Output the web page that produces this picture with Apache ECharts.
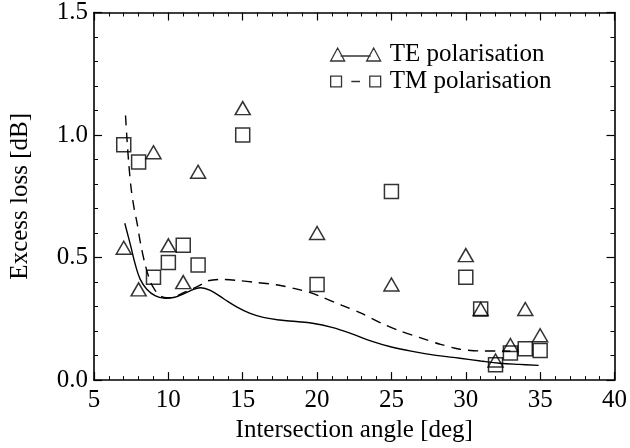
<!DOCTYPE html>
<html>
<head>
<meta charset="utf-8">
<script src="https://cdn.jsdelivr.net/npm/echarts@6/dist/echarts.min.js"></script>
<style>
html,body{margin:0;padding:0;background:#fff;}
#chart{width:630px;height:448px;}
</style>
</head>
<body>
<div id="chart"></div>
<script>
// Measured points
const angles = [7, 8, 9, 10, 11, 12, 15, 20, 25, 30, 31, 32, 33, 34, 35];
const teLoss = [0.54, 0.37, 0.93, 0.55, 0.40, 0.85, 1.11, 0.60, 0.39, 0.51, 0.29, 0.08, 0.143, 0.29, 0.183];
const tmLoss = [0.96, 0.89, 0.42, 0.48, 0.55, 0.47, 1.00, 0.39, 0.77, 0.42, 0.29, 0.063, 0.111, 0.128, 0.121];

// Fitted curves
const teFitX = [7.07, 7.45, 7.78, 8.11, 8.55, 9.1, 9.77, 10.43, 11.09, 11.75, 12.19, 12.85, 13.74, 14.62, 15.5, 16.38, 17.49, 18.59, 19.69, 21.0, 22.3, 23.6, 25.0, 26.5, 28.0, 29.6, 31.0, 32.3, 33.6, 34.9];
const teFitY = [0.64, 0.552, 0.471, 0.411, 0.371, 0.345, 0.334, 0.338, 0.354, 0.371, 0.377, 0.365, 0.331, 0.298, 0.272, 0.256, 0.245, 0.239, 0.232, 0.215, 0.19, 0.16, 0.135, 0.116, 0.101, 0.089, 0.078, 0.069, 0.064, 0.06];
const tmFitX = [7.12, 7.2, 7.34, 7.5, 7.7, 7.9, 8.11, 8.44, 8.77, 9.0, 9.4, 9.9, 10.4, 11.0, 11.6, 12.2, 12.63, 13.5, 14.6, 15.93, 17.26, 18.59, 19.5, 20.35, 21.68, 23.0, 24.33, 25.65, 26.97, 28.3, 29.62, 30.94, 32.27, 33.0];
const tmFitY = [1.08, 1.0, 0.882, 0.78, 0.70, 0.64, 0.564, 0.471, 0.405, 0.377, 0.346, 0.336, 0.339, 0.356, 0.372, 0.39, 0.405, 0.411, 0.407, 0.398, 0.389, 0.372, 0.358, 0.338, 0.305, 0.272, 0.232, 0.199, 0.172, 0.146, 0.126, 0.119, 0.119, 0.118];

const xTicks = [5, 10, 15, 20, 25, 30, 35, 40];
const yTicks = [0.0, 0.5, 1.0, 1.5];

const FONT = 'Liberation Serif';
const FS = 25;
const zip = (a, b) => a.map((v, i) => [v, b[i]]);

const chart = echarts.init(document.getElementById('chart'), null, {renderer: 'canvas'});

const axisCommon = {
  axisLine: {show: true, onZero: false, lineStyle: {color: '#000', width: 1.6}},
  axisTick: {show: true, inside: true, length: 8, lineStyle: {color: '#000', width: 1.2}},
  minorTick: {show: true, splitNumber: 5, length: 4, lineStyle: {color: '#000', width: 1}},
  splitLine: {show: false}
};

chart.setOption({
  animation: false,
  backgroundColor: '#fff',
  grid: {left: 88, right: 13, top: 8, bottom: 63, containLabel: false},
  legend: {
    orient: 'vertical',
    left: 325,
    top: 37,
    itemGap: 2,
    itemWidth: 50,
    itemHeight: 14,
    selectedMode: false,
    textStyle: {fontFamily: FONT, fontSize: FS, color: '#000', padding: [0, 0, 0, 4]},
    itemStyle: {color: 'rgba(0,0,0,0)', borderColor: '#000', borderWidth: 1.3},
    data: [
      {name: 'TE polarisation', icon: 'path://M0,14 L7,1 L14,14 Z M10,9 L40,9 M36,14 L43,1 L50,14 Z'},
      {name: 'TM polarisation', icon: 'path://M2,2 L12,2 L12,12 L2,12 Z M21,7 L29,7 M38,2 L48,2 L48,12 L38,12 Z'}
    ]
  },
  xAxis: [
    Object.assign({
      type: 'value', min: 5, max: 40, interval: 5, position: 'bottom',
      name: 'Intersection angle [deg]', nameLocation: 'middle', nameGap: 33,
      nameTextStyle: {fontFamily: FONT, fontSize: FS, color: '#000'},
      axisLabel: {fontFamily: FONT, fontSize: FS, color: '#000', margin: 8,
        formatter: v => xTicks.includes(v) ? String(v) : ''}
    }, axisCommon),
    Object.assign({
      type: 'value', min: 5, max: 40, interval: 5, position: 'top',
      axisLabel: {show: false}
    }, axisCommon)
  ],
  yAxis: [
    Object.assign({
      type: 'value', min: 0, max: 1.5, interval: 0.5, position: 'left',
      name: 'Excess loss [dB]', nameLocation: 'middle', nameGap: 61, nameRotate: 90,
      nameTextStyle: {fontFamily: FONT, fontSize: FS, color: '#000'},
      axisLabel: {fontFamily: FONT, fontSize: FS, color: '#000', margin: 6,
        formatter: v => yTicks.some(t => Math.abs(t - v) < 1e-9) ? v.toFixed(1) : ''}
    }, axisCommon),
    Object.assign({
      type: 'value', min: 0, max: 1.5, interval: 0.5, position: 'right',
      axisLabel: {show: false}
    }, axisCommon)
  ],
  series: [
    {
      name: 'TE fit', type: 'line', xAxisIndex: 0, yAxisIndex: 0,
      data: zip(teFitX, teFitY), showSymbol: false, symbol: 'none', smooth: 0.4,
      lineStyle: {color: '#000', width: 1.4, type: 'solid'}, z: 2, silent: true
    },
    {
      name: 'TM fit', type: 'line', xAxisIndex: 0, yAxisIndex: 0,
      data: zip(tmFitX, tmFitY), showSymbol: false, symbol: 'none', smooth: 0.3,
      lineStyle: {color: '#000', width: 1.4, type: [10, 7]}, z: 2, silent: true
    },
    {
      name: 'TM polarisation', type: 'scatter', xAxisIndex: 0, yAxisIndex: 0,
      data: zip(angles, tmLoss), symbol: 'rect', symbolSize: [14, 14],
      itemStyle: {color: 'rgba(255,255,255,0)', borderColor: '#000', borderWidth: 1.5}, z: 3
    },
    {
      name: 'TE polarisation', type: 'scatter', xAxisIndex: 0, yAxisIndex: 0,
      data: zip(angles, teLoss), symbol: 'triangle', symbolSize: [15, 13],
      itemStyle: {color: 'rgba(255,255,255,0)', borderColor: '#000', borderWidth: 1.5}, z: 4
    }
  ]
});
</script>
</body>
</html>
